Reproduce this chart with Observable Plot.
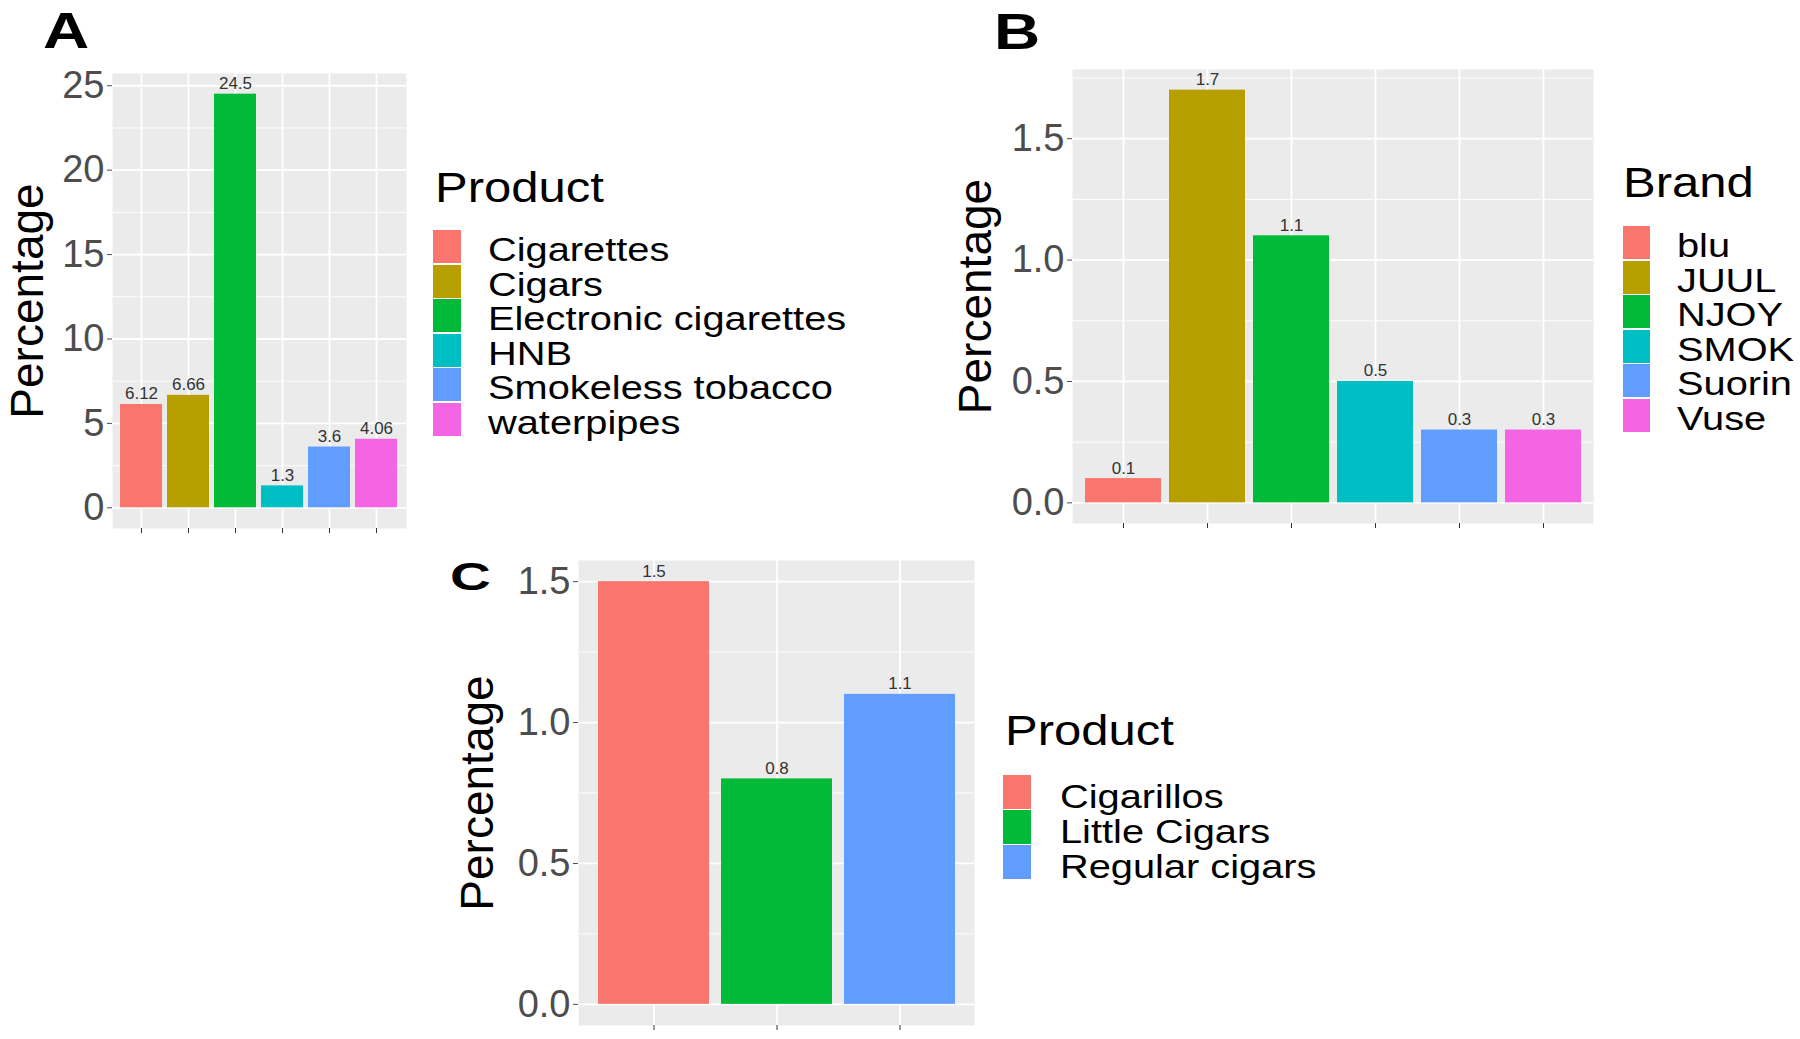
<!DOCTYPE html>
<html><head><meta charset="utf-8">
<script src="https://cdn.jsdelivr.net/npm/d3@7"></script>
<script src="https://cdn.jsdelivr.net/npm/@observablehq/plot@0.6"></script>
<style>
body{margin:0;background:#fff;}
#root{position:relative;width:1800px;height:1039px;overflow:hidden;background:#fff;font-family:"Liberation Sans",Arial,sans-serif;}
.abs{position:absolute;white-space:nowrap;}
</style></head><body><div id="root"></div>
<script>
// ---- data ----
const productsA = ["Cigarettes","Cigars","Electronic cigarettes","HNB","Smokeless tobacco","waterpipes"];
const percentA = [6.12,6.66,24.5,1.3,3.6,4.06];
const brandsB = ["blu","JUUL","NJOY","SMOK","Suorin","Vuse"];
const percentB = [0.1,1.7,1.1,0.5,0.3,0.3];
const productsC = ["Cigarillos","Little Cigars","Regular cigars"];
const percentC = [1.5,0.8,1.1];
const ticksA = [0,5,10,15,20,25];
const tickLabelsA = ["0","5","10","15","20","25"];
const ticksB = [0,0.5,1,1.5];
const tickLabelsB = ["0.0","0.5","1.0","1.5"];
const ticksC = [0,0.5,1,1.5];
const tickLabelsC = ["0.0","0.5","1.0","1.5"];
const minorA = [2.5,7.5,12.5,17.5,22.5];
const minorB = [0.25,0.75,1.25,1.75];
const minorC = [0.25,0.75,1.25];
const hue6 = ["#F8766D","#B79F00","#00BA38","#00BFC4","#619CFF","#F564E3"];
const hue3 = ["#F8766D","#00BA38","#619CFF"];

const FONT = '"Liberation Sans", Arial, sans-serif';
const root = document.getElementById("root");

function panel(cfg){
  const data = cfg.cats.map((c,i)=>({cat:c, val:cfg.vals[i]}));
  const max = d3.max(cfg.vals);
  const lab = new Map(cfg.ticks.map((t,i)=>[t,cfg.tickLabels[i]]));
  const chart = Plot.plot({
    width: cfg.w, height: cfg.h,
    marginLeft: cfg.ml, marginRight: cfg.mr, marginTop: cfg.mt, marginBottom: cfg.mb,
    style: {fontFamily: FONT, background: "transparent", overflow: "visible"},
    x: {domain: cfg.cats, paddingInner: 0.1, paddingOuter: 0.15},
    y: {domain: [-0.05*max, 1.05*max]},
    color: {domain: cfg.cats, range: cfg.colors},
    marks: [
      Plot.frame({fill:"#EBEBEB", stroke:"none"}),
      Plot.gridY(cfg.minor, {stroke:"#fff", strokeOpacity:1, strokeWidth:0.9}),
      Plot.gridY(cfg.ticks, {stroke:"#fff", strokeOpacity:1, strokeWidth:1.8}),
      Plot.gridX(cfg.cats, {stroke:"#fff", strokeOpacity:1, strokeWidth:1.8}),
      Plot.barY(data, {x:"cat", y:"val", fill:"cat"}),
      Plot.text(data, {x:"cat", y:"val", text:d=>String(d.val), dy:-5, lineAnchor:"bottom", fontSize:17, fill:"#333"}),
      Plot.axisY(cfg.ticks, {tickSize:5, tickPadding:3, tickFormat:t=>lab.get(t), fontSize:38, color:"#4D4D4D", label:null}),
      Plot.axisX(cfg.cats, {tickSize:5, tickFormat:()=>"", color:"#333", label:null}),
      Plot.text(["Percentage"], {text:d=>d, frameAnchor:"left", rotate:-90, dx:cfg.labelDx, fontSize:46, fill:"#000", textAnchor:"middle", lineAnchor:"middle"})
    ]
  });
  chart.style.position = "absolute";
  chart.style.left = cfg.left + "px";
  chart.style.top = cfg.top + "px";
  root.appendChild(chart);
}

// place a text so that its baseline lies at `baseline`
function addText(str, x, baseline, size, weight, sx, lh){
  const L = lh || size;
  const d = document.createElement("div");
  d.className = "abs";
  d.textContent = str;
  Object.assign(d.style, {
    left: x + "px", top: (baseline - (L/2 + 0.3465*size)) + "px",
    fontSize: size + "px", lineHeight: L + "px", height: L + "px", fontWeight: weight,
    transform: `scaleX(${sx})`, transformOrigin: "left center", color: "#000"
  });
  root.appendChild(d);
}

function legend(cfg){
  addText(cfg.title, cfg.x, cfg.titleBase, 43, "normal", 1.14);
  cfg.items.forEach((it,i)=>{
    const key = document.createElement("div");
    key.className = "abs";
    Object.assign(key.style, {
      left: cfg.keyX + "px", top: (cfg.keysTop + i*cfg.row) + "px",
      width: cfg.keyW + "px", height: (cfg.row - 1.2) + "px", background: cfg.colors[i]
    });
    root.appendChild(key);
    addText(it, cfg.labelX, cfg.keysTop + i*cfg.row + cfg.row - 2.5, 34, "normal", 1.17, cfg.row - 1);
  });
}

panel({cats: productsA, vals: percentA, colors: hue6, ticks: ticksA, tickLabels: tickLabelsA, minor: minorA,
  left: 0, top: 0, w: 420, h: 545, ml: 112, mr: 14, mt: 73, mb: 17, labelDx: -84});
panel({cats: brandsB, vals: percentB, colors: hue6, ticks: ticksB, tickLabels: tickLabelsB, minor: minorB,
  left: 950, top: 0, w: 660, h: 540, ml: 122, mr: 17, mt: 69, mb: 17, labelDx: -96});
panel({cats: productsC, vals: percentC, colors: hue3, ticks: ticksC, tickLabels: tickLabelsC, minor: minorC,
  left: 440, top: 540, w: 550, h: 499, ml: 138, mr: 16, mt: 20, mb: 14, labelDx: -100});

legend({title: "Product", items: productsA, colors: hue6, x: 435, titleBase: 202, keyX: 433, keyW: 28, keysTop: 230, row: 34.5, labelX: 488});
legend({title: "Brand", items: brandsB, colors: hue6, x: 1623, titleBase: 197, keyX: 1623, keyW: 27, keysTop: 226, row: 34.5, labelX: 1677});
legend({title: "Product", items: productsC, colors: hue3, x: 1005, titleBase: 745, keyX: 1003, keyW: 28, keysTop: 775, row: 35, labelX: 1060});

addText("A", 43, 48, 50, "bold", 1.28);
addText("B", 994, 49, 50, "bold", 1.28);
addText("C", 450, 590, 39, "bold", 1.45);
</script></body></html>
